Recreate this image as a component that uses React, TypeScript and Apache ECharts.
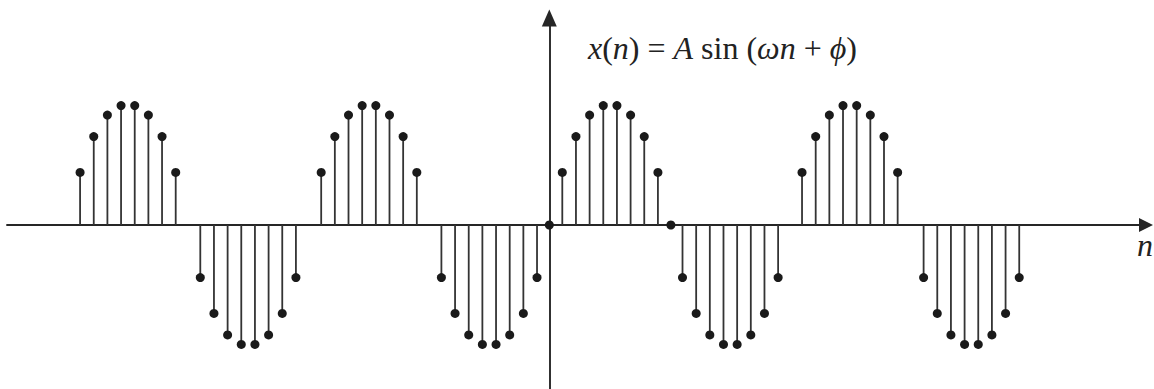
import React, { useEffect, useRef } from "react";
import * as echarts from "echarts";

// Sample positions along n, one row per lobe of the sinusoid.
const sampleN: number[] = [
  -34.35, -33.35, -32.35, -31.35, -30.35, -29.35, -28.35, -27.35,
  -25.55, -24.55, -23.55, -22.55, -21.55, -20.55, -19.55, -18.55,
  -16.7, -15.7, -14.7, -13.7, -12.7, -11.7, -10.7, -9.7,
  -7.9, -6.9, -5.9, -4.9, -3.9, -2.9, -1.9, -0.9,
  0,
  0.95, 1.95, 2.95, 3.95, 4.95, 5.95, 6.95, 7.95,
  8.9,
  9.75, 10.75, 11.75, 12.75, 13.75, 14.75, 15.75, 16.75,
  18.5, 19.5, 20.5, 21.5, 22.5, 23.5, 24.5, 25.5,
  27.4, 28.4, 29.4, 30.4, 31.4, 32.4, 33.4, 34.4,
];

// Sample values x(n), in units of the amplitude A.
const sampleX: number[] = [
  0.44, 0.74, 0.92, 1, 1, 0.92, 0.74, 0.44,
  -0.44, -0.74, -0.92, -1, -1, -0.92, -0.74, -0.44,
  0.44, 0.74, 0.92, 1, 1, 0.92, 0.74, 0.44,
  -0.44, -0.74, -0.92, -1, -1, -0.92, -0.74, -0.44,
  0,
  0.44, 0.74, 0.92, 1, 1, 0.92, 0.74, 0.44,
  0,
  -0.44, -0.74, -0.92, -1, -1, -0.92, -0.74, -0.44,
  0.44, 0.74, 0.92, 1, 1, 0.92, 0.74, 0.44,
  -0.44, -0.74, -0.92, -1, -1, -0.92, -0.74, -0.44,
];

const axisLabel = "n";
const formulaRich =
  "{i|x}{r|(}{i|n}{r|) = }{i|A}{r| sin (}{i|ωn}{r| + }{i|ϕ}{r|)}";

const INK = "#222222";
const SERIF = "Liberation Serif";
const FORMULA_SIZE = 32;

export default function App() {
  const ref = useRef<HTMLDivElement>(null);

  useEffect(() => {
    if (!ref.current) return;
    const chart = echarts.init(ref.current, undefined, { renderer: "svg" });

    const data = sampleN.map((n, i) => [n, sampleX[i]]);

    chart.setOption({
      animation: false,
      backgroundColor: "#ffffff",
      grid: { left: 7, right: 8, top: 18, bottom: 0, containLabel: false },
      xAxis: {
        type: "value",
        min: -39.7,
        max: 43.68,
        axisLine: {
          show: true,
          onZero: true,
          symbol: ["none", "triangle"],
          symbolSize: [14, 14],
          lineStyle: { color: "#262626", width: 1.9 },
        },
        axisTick: { show: false },
        axisLabel: { show: false },
        splitLine: { show: false },
      },
      yAxis: {
        type: "value",
        min: -1.373,
        max: 1.733,
        axisLine: {
          show: true,
          onZero: true,
          symbol: ["none", "triangle"],
          symbolSize: [15, 17],
          lineStyle: { color: "#262626", width: 1.9 },
        },
        axisTick: { show: false },
        axisLabel: { show: false },
        splitLine: { show: false },
      },
      series: [
        {
          type: "custom",
          data,
          z: 5,
          renderItem: (_params: any, api: any) => {
            const n = api.value(0);
            const v = api.value(1);
            const base = api.coord([n, 0]);
            const tip = api.coord([n, v]);
            const children: any[] = [];
            if (v !== 0) {
              children.push({
                type: "line",
                shape: { x1: base[0], y1: base[1], x2: tip[0], y2: tip[1] },
                style: { stroke: "#333333", lineWidth: 1.8 },
              });
            }
            children.push({
              type: "circle",
              shape: { cx: tip[0], cy: tip[1], r: 4.5 },
              style: { fill: "#1a1a1a" },
            });
            return { type: "group", children };
          },
        },
      ],
      graphic: [
        {
          type: "text",
          x: 588,
          y: 48,
          style: {
            text: formulaRich,
            align: "left",
            verticalAlign: "middle",
            rich: {
              i: { fontFamily: SERIF, fontStyle: "italic", fontSize: FORMULA_SIZE, fill: INK },
              r: { fontFamily: SERIF, fontSize: FORMULA_SIZE, fill: INK },
            },
          },
        },
        {
          type: "text",
          x: 1137,
          y: 245,
          style: {
            text: axisLabel,
            align: "left",
            verticalAlign: "middle",
            fontFamily: SERIF,
            fontStyle: "italic",
            fontSize: 32,
            fill: INK,
          },
        },
      ],
    });

    return () => chart.dispose();
  }, []);

  return (
    <div
      ref={ref}
      style={{ position: "absolute", left: 0, top: 0, width: 1154, height: 389 }}
    />
  );
}
